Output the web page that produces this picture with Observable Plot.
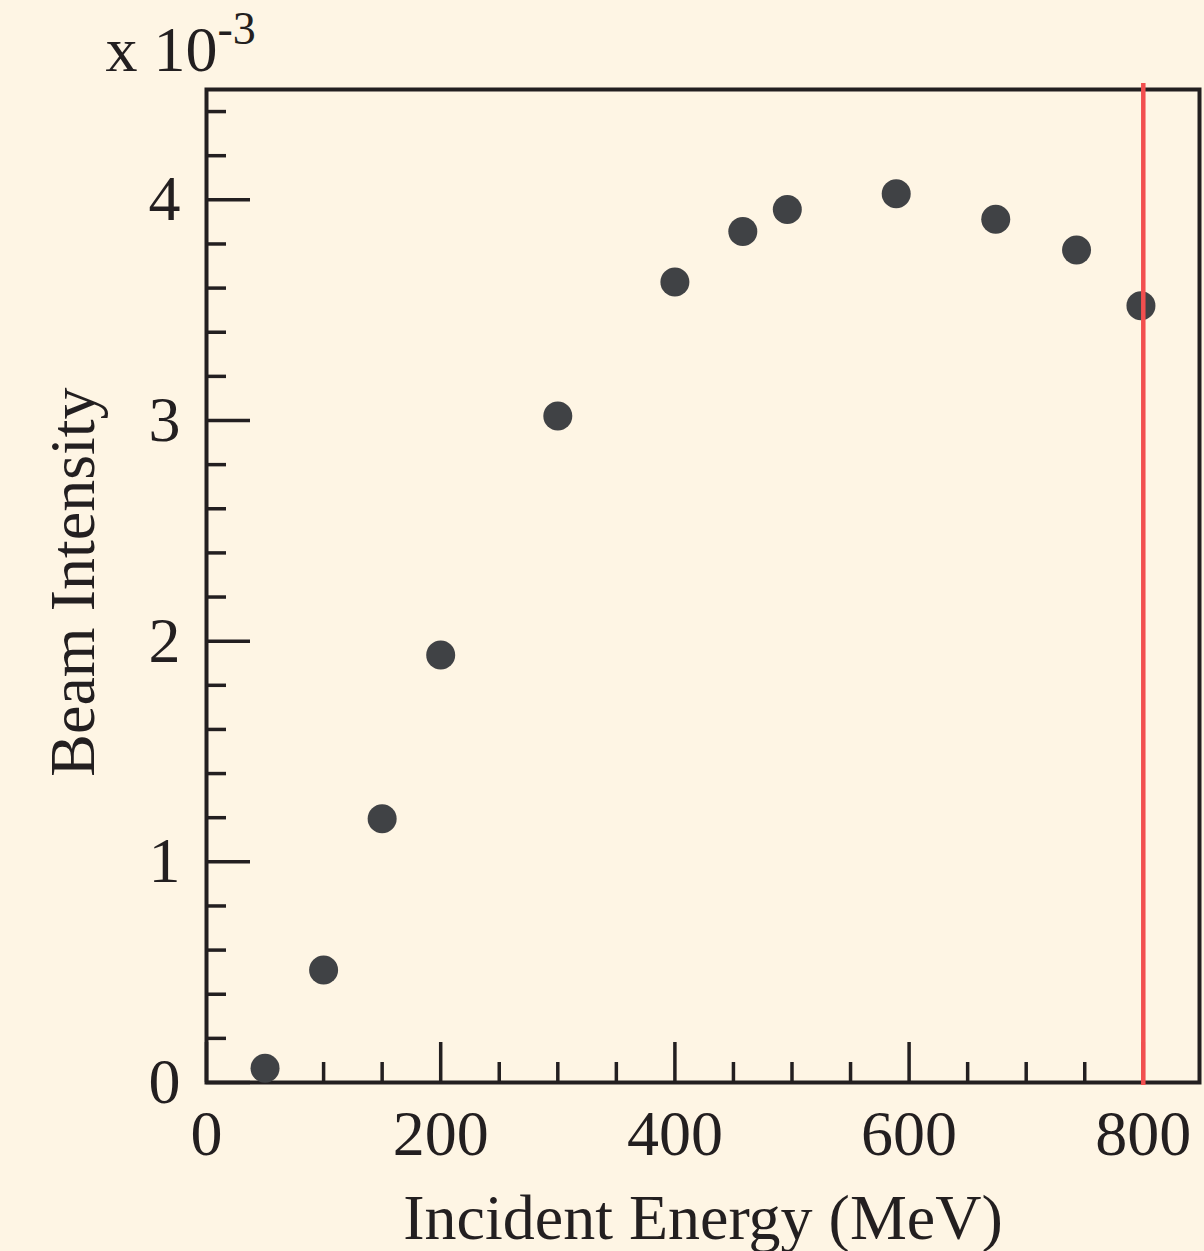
<!DOCTYPE html>
<html>
<head>
<meta charset="utf-8">
<script src="https://cdn.jsdelivr.net/npm/d3@7"></script>
<script src="https://cdn.jsdelivr.net/npm/@observablehq/plot@0.6"></script>
<style>
  html, body { margin: 0; padding: 0; background: #fef5e4; }
  #chart svg { display: block; }
</style>
</head>
<body>
<div id="chart"></div>
<script>
const energy = [50, 100, 150, 200, 300, 400, 458, 496, 589, 674, 743, 798];
const intensity = [0.065, 0.51, 1.195, 1.937, 3.02, 3.628, 3.856, 3.956, 4.028, 3.912, 3.773, 3.52];
const xMajor = [0, 200, 400, 600, 800];
const xMinor = [50, 100, 150, 250, 300, 350, 450, 500, 550, 650, 700, 750];
const yMajor = [0, 1, 2, 3, 4];
const yMinor = [0.2, 0.4, 0.6, 0.8, 1.2, 1.4, 1.6, 1.8, 2.2, 2.4, 2.6, 2.8, 3.2, 3.4, 3.6, 3.8, 4.2, 4.4];
const cutoff = [800];
const xTitle = "Incident Energy (MeV)";
const yTitle = "Beam Intensity";
const scaleText = "x 10";
const scaleExp = "-3";

const points = energy.map((e, i) => ({energy: e, intensity: intensity[i]}));
const ink = "#231f20";
const intFmt = d => String(d);

const chart = Plot.plot({
  width: 1204,
  height: 1251,
  marginLeft: 206,
  marginRight: 5,
  marginTop: 89,
  marginBottom: 169,
  style: {background: "#fef5e4", fontFamily: "'Liberation Serif', 'Times New Roman', serif", fontSize: "64px", color: ink},
  x: {domain: [0, 848]},
  y: {domain: [0, 4.5]},
  marks: [
    Plot.axisX({ticks: xMinor, tickSize: -20, strokeWidth: 3.5, stroke: ink, tickFormat: () => "", label: null}),
    Plot.axisX({ticks: xMajor, tickSize: -40, strokeWidth: 3.5, stroke: ink, tickFormat: () => "", label: null}),
    Plot.axisX({ticks: xMajor, tickSize: 0, tickPadding: 27, tickFormat: intFmt, fontSize: 64, fill: ink, label: null}),
    Plot.axisY({ticks: yMinor, tickSize: -20, strokeWidth: 3.5, stroke: ink, tickFormat: () => "", label: null}),
    Plot.axisY({ticks: yMajor, tickSize: -44, strokeWidth: 3.5, stroke: ink, tickFormat: () => "", label: null}),
    Plot.axisY({ticks: yMajor, tickSize: 0, tickPadding: 26, tickFormat: intFmt, fontSize: 64, fill: ink, label: null}),
    Plot.frame({stroke: ink, strokeWidth: 4}),
    Plot.dot(points, {x: "energy", y: "intensity", r: 14.5, fill: "#404245", stroke: "none"}),
    Plot.ruleX(cutoff, {stroke: "#f24f4f", strokeWidth: 4.5, insetTop: -6, insetBottom: -3}),
    Plot.text([xTitle], {frameAnchor: "bottom", textAnchor: "middle", lineAnchor: "bottom", dy: 156, fontSize: 64, fill: ink}),
    Plot.text([yTitle], {frameAnchor: "left", textAnchor: "middle", lineAnchor: "bottom", rotate: -90, dx: -113, dy: -4, fontSize: 64, fill: ink}),
    Plot.text([scaleText], {frameAnchor: "top-left", textAnchor: "start", lineAnchor: "bottom", dx: -101, dy: -19, fontSize: 64, fill: ink}),
    Plot.text([scaleExp], {frameAnchor: "top-left", textAnchor: "start", lineAnchor: "bottom", dx: 11, dy: -46, fontSize: 46, fill: ink})
  ]
});
document.getElementById("chart").append(chart);
</script>
</body>
</html>
